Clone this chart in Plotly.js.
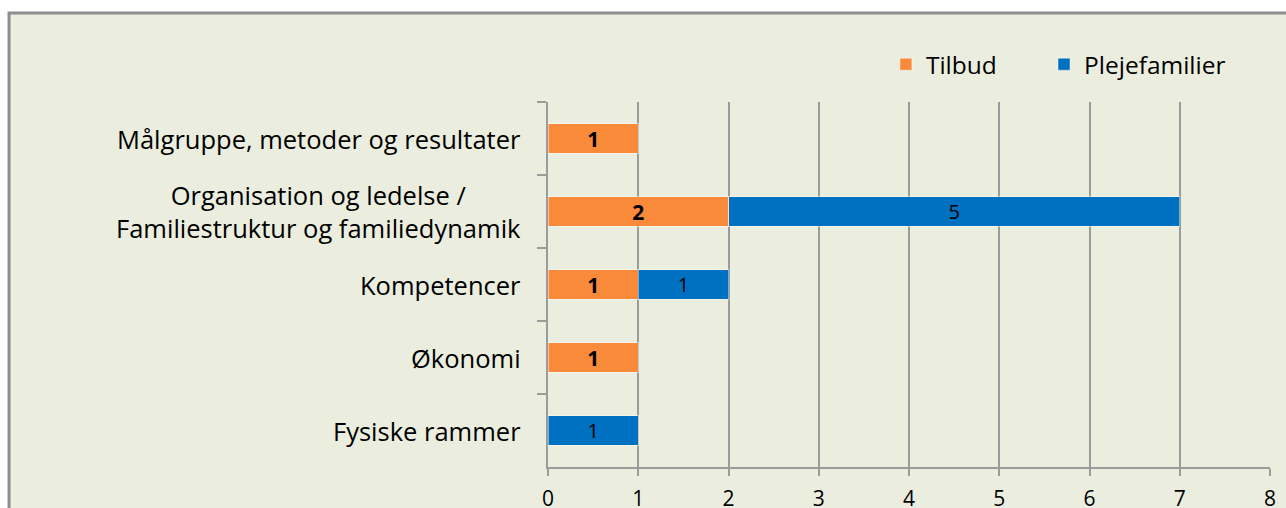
<!DOCTYPE html>
<html>
<head>
<meta charset="utf-8">
<script src="https://cdn.plot.ly/plotly-3.0.1.min.js"></script>
<style>
  body { margin: 0; background: #fff; }
  #chart { width: 1286px; height: 508px; }
</style>
</head>
<body>
<div id="chart"></div>
<script>
// chart values
const categories = [
    'Målgruppe, metoder og resultater',
    'Organisation og ledelse /<br>Familiestruktur og familiedynamik',
    'Kompetencer',
    'Økonomi',
    'Fysiske rammer'
];
const tilbud = [1, 2, 1, 1, null];
const plejefamilier = [null, 5, 1, null, 1];
const xTicks = [0, 1, 2, 3, 4, 5, 6, 7, 8];

const font = '"Open Sans", Lato, sans-serif';
const grey = '#9b9b9b';

const trace1 = {
    type: 'bar',
    orientation: 'h',
    name: 'Tilbud',
    legend: 'legend',
    y: categories,
    x: tilbud,
    marker: { color: '#F88A3A', line: { color: 'rgba(255,255,255,0.45)', width: 1 } },
    texttemplate: '<b>%{x}</b>',
    textposition: 'inside',
    insidetextanchor: 'middle',
    textangle: 0,
    constraintext: 'none',
    textfont: { family: font, size: 21, color: '#000' },
    hoverinfo: 'x+name'
};
const trace2 = {
    type: 'bar',
    orientation: 'h',
    name: 'Plejefamilier',
    legend: 'legend2',
    y: categories,
    x: plejefamilier,
    marker: { color: '#0070C0', line: { color: 'rgba(255,255,255,0.45)', width: 1 } },
    texttemplate: '%{x}',
    textposition: 'inside',
    insidetextanchor: 'middle',
    textangle: 0,
    constraintext: 'none',
    textfont: { family: font, size: 20, color: '#000' },
    hoverinfo: 'x+name'
};

// category labels as annotations so two-line label is centred like the original
const labelNotes = categories.map(c => ({
    text: c,
    xref: 'paper', yref: 'y',
    x: -0.0346, y: c,
    xanchor: 'right', yanchor: 'middle',
    align: 'center',
    showarrow: false,
    font: { family: font, size: 25.5, color: '#000' }
}));

// one legend per series so the gap between the two entries matches
function legendAt(x) {
    return {
        orientation: 'h',
        x: x, xanchor: 'left',
        y: 1.165, yanchor: 'top',
        font: { family: font, size: 24.5, color: '#000' },
        bgcolor: 'rgba(0,0,0,0)'
    };
}

const layout = {
    width: 1286,
    height: 508,
    margin: { l: 548, r: 16, t: 102, b: 41 },
    paper_bgcolor: '#ffffff',
    plot_bgcolor: 'rgba(0,0,0,0)',
    barmode: 'stack',
    bargap: 0.6,
    showlegend: true,
    legend: legendAt(0.468),
    legend2: legendAt(0.687),
    xaxis: {
        range: [0, 8],
        tickvals: xTicks,
        showgrid: true,
        gridcolor: grey,
        gridwidth: 2,
        showline: true,
        linecolor: grey,
        linewidth: 2,
        ticks: 'outside',
        ticklen: 7,
        tickwidth: 2,
        tickcolor: grey,
        ticklabelstandoff: 5,
        zeroline: false,
        tickfont: { family: font, size: 21, color: '#000' },
        fixedrange: true
    },
    yaxis: {
        type: 'category',
        categoryorder: 'array',
        categoryarray: categories,
        autorange: 'reversed',
        showticklabels: false,
        showline: true,
        linecolor: grey,
        linewidth: 2,
        ticks: 'outside',
        tickson: 'boundaries',
        ticklen: 9,
        tickwidth: 2,
        tickcolor: grey,
        showgrid: false,
        zeroline: false,
        fixedrange: true
    },
    annotations: labelNotes,
    shapes: [{
        type: 'rect',
        xref: 'paper', yref: 'paper',
        x0: -0.7465, x1: 1.03,
        y0: -0.14, y1: 1.2438,
        fillcolor: '#EBEEDF',
        line: { color: '#8e8e8e', width: 3 },
        layer: 'below'
    }]
};

Plotly.newPlot('chart', [trace1, trace2], layout, { displayModeBar: false, staticPlot: true });
</script>
</body>
</html>
